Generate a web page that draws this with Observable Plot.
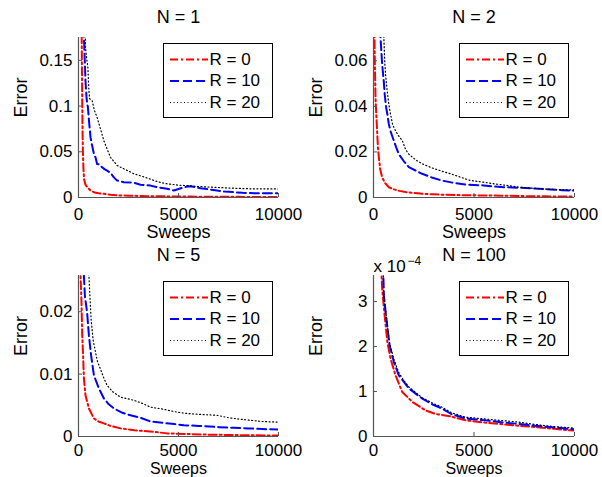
<!DOCTYPE html>
<html>
<head>
<meta charset="utf-8">
<script src="https://cdn.jsdelivr.net/npm/d3@7"></script>
<script src="https://cdn.jsdelivr.net/npm/@observablehq/plot@0.6"></script>
<style>
  body { margin: 0; background: white; }
  #chart { position: relative; width: 602px; height: 477px; overflow: hidden; background: white; }
  #chart svg { position: absolute; left: 0; top: 0; }
</style>
</head>
<body>
<div id="chart"></div>
<script>
// ---- data: [sweeps, error] ----
const xTicks = [0, 5000, 10000];
const seriesNames = ["R = 0", "R = 10", "R = 20"];

// N = 1
const N1_R0 = [[100,0.3],[150,0.2],[180,0.12],[200,0.075],[220,0.05],[250,0.03],[280,0.02],[350,0.014],[450,0.011],[600,0.0076],[800,0.0055],[1000,0.0046],[1270,0.004],[1600,0.003],[2100,0.0022],[2500,0.002],[3000,0.0017],[4000,0.0013],[5000,0.0011],[6000,0.0009],[7000,0.0008],[8000,0.0007],[9000,0.0006],[10000,0.0005]];
const N1_R10 = [[250,0.2],[280,0.17],[320,0.146],[350,0.127],[400,0.11],[430,0.103],[470,0.099],[520,0.085],[600,0.066],[650,0.06],[700,0.055],[770,0.0475],[850,0.044],[930,0.0367],[1050,0.036],[1180,0.033],[1300,0.031],[1430,0.0294],[1600,0.027],[1770,0.022],[1930,0.0185],[2270,0.0167],[2770,0.0162],[3100,0.014],[3600,0.013],[4000,0.011],[4430,0.0095],[4770,0.0076],[5180,0.0105],[5450,0.0122],[5680,0.012],[6100,0.0101],[6500,0.009],[6930,0.0076],[7300,0.0066],[7770,0.0058],[8200,0.0052],[8770,0.0047],[9300,0.0047],[10000,0.0046]];
const N1_R20 = [[330,0.2],[350,0.164],[420,0.15],[470,0.142],[520,0.117],[560,0.108],[680,0.106],[800,0.095],[930,0.0875],[1100,0.075],[1270,0.062],[1450,0.052],[1600,0.044],[1930,0.035],[2300,0.031],[2770,0.026],[3200,0.023],[3600,0.02],[4000,0.017],[4430,0.015],[5000,0.0135],[5430,0.013],[6000,0.012],[6930,0.011],[7700,0.0102],[8600,0.0095],[9200,0.0095],[10000,0.0093]];

// N = 2
const N2_R0 = [[30,0.09],[50,0.07],[70,0.058],[100,0.044],[140,0.036],[180,0.0293],[220,0.022],[265,0.0177],[330,0.0125],[430,0.0089],[560,0.0065],[760,0.0045],[1000,0.0036],[1300,0.0029],[1590,0.0024],[2000,0.002],[2500,0.0016],[2920,0.0014],[3500,0.0012],[4500,0.001],[5500,0.0009],[6400,0.0008],[7500,0.0006],[8500,0.0005],[10000,0.0004]];
const N2_R10 = [[300,0.08],[350,0.07],[430,0.0585],[510,0.0512],[560,0.045],[630,0.0395],[700,0.036],[760,0.0323],[850,0.029],[1010,0.025],[1130,0.022],[1260,0.019],[1500,0.016],[1760,0.0133],[2100,0.0118],[2420,0.0104],[2900,0.0088],[3420,0.0074],[4000,0.0064],[4580,0.0057],[5490,0.0053],[6000,0.0048],[6600,0.0045],[7200,0.0043],[7980,0.004],[8800,0.0035],[9400,0.0032],[10000,0.003]];
const N2_R20 = [[480,0.08],[515,0.07],[565,0.0585],[620,0.052],[680,0.0469],[760,0.041],[845,0.0367],[950,0.032],[1095,0.0293],[1250,0.027],[1430,0.025],[1600,0.021],[1760,0.019],[2100,0.0165],[2420,0.0148],[2900,0.013],[3420,0.0115],[3830,0.0104],[4300,0.009],[4800,0.0075],[5490,0.0067],[6000,0.006],[6650,0.0053],[7200,0.0046],[8000,0.004],[8800,0.0036],[9400,0.0034],[10000,0.0033]];

// N = 5
const N5_R0 = [[80,0.03],[100,0.026],[150,0.0215],[185,0.0162],[230,0.013],[270,0.0093],[350,0.0066],[520,0.0045],[770,0.0029],[1000,0.0024],[1270,0.0021],[1600,0.0017],[2100,0.0013],[2800,0.001],[3770,0.00075],[4430,0.0005],[5500,0.0004],[6500,0.0003],[7500,0.00025],[8500,0.0002],[10000,0.00016]];
const N5_R10 = [[240,0.03],[270,0.0258],[320,0.0225],[430,0.0199],[520,0.0162],[630,0.013],[770,0.0098],[1020,0.0077],[1270,0.0061],[1500,0.0052],[1770,0.0045],[2200,0.0038],[2600,0.0034],[3100,0.003],[3600,0.0024],[4200,0.0022],[4800,0.002],[5270,0.0018],[6000,0.0017],[7000,0.0015],[7770,0.0014],[8500,0.0013],[9200,0.0012],[10000,0.0011]];
const N5_R20 = [[480,0.03],[520,0.0258],[570,0.0225],[630,0.0188],[730,0.0155],[850,0.0135],[950,0.012],[1100,0.0108],[1250,0.0095],[1430,0.0082],[1700,0.0072],[2100,0.0063],[2400,0.0061],[2770,0.0058],[3200,0.0053],[3600,0.0047],[4200,0.0044],[4930,0.0039],[5400,0.0037],[5770,0.0036],[6300,0.0035],[6930,0.0034],[7500,0.003],[8000,0.0028],[8600,0.0026],[9200,0.0024],[10000,0.0023]];

// N = 100 (values in units of 1e-4)
const N100_R0 = [[380,3.8],[400,3.58],[430,3.29],[500,2.95],[570,2.62],[690,2.1],[850,1.73],[1095,1.36],[1430,0.99],[1930,0.77],[2590,0.58],[3100,0.5],[3800,0.45],[4580,0.36],[5540,0.31],[6500,0.27],[7220,0.24],[8000,0.21],[9000,0.17],[10000,0.13]];
const N100_R10 = [[470,3.8],[490,3.58],[515,3.14],[640,2.62],[800,2.03],[1010,1.66],[1260,1.36],[1760,1.07],[2430,0.84],[3000,0.7],[3420,0.62],[3870,0.5],[4580,0.4],[5540,0.36],[6500,0.31],[7220,0.28],[8000,0.24],[9000,0.2],[10000,0.16]];
const N100_R20 = [[470,3.8],[490,3.58],[515,3.16],[640,2.66],[800,2.08],[1010,1.72],[1260,1.42],[1500,1.25],[1760,1.1],[2430,0.86],[3000,0.73],[3420,0.65],[3870,0.53],[4580,0.43],[5540,0.39],[6500,0.35],[7220,0.32],[8000,0.27],[9000,0.22],[10000,0.19]];

const yTicks1 = [0, 0.05, 0.1, 0.15];
const yTicks2 = [0, 0.02, 0.04, 0.06];
const yTicks5 = [0, 0.01, 0.02];
const yTicks100 = [0, 1, 2, 3];

// ---- styles ----
const styles = [
  {stroke: "#ff0000", strokeWidth: 2, strokeDasharray: "8,3,2,3"},
  {stroke: "#0000ff", strokeWidth: 2, strokeDasharray: "9,4"},
  {stroke: "#000000", strokeWidth: 1.2, strokeDasharray: "1,2.5"}
];
const axisColor = "#555";
const W = 602, H = 477;

function panel({title, series, yMax, yTicks, left, right, top, bottom, exponent, labelDy, labelSize, xPad}) {
  const fw = right - left, fh = bottom - top;
  const marks = [];
  series.forEach((s, i) => {
    marks.push(Plot.line(s, {x: d => d[0], y: d => d[1], clip: true, ...styles[i]}));
  });
  // axis lines & inner ticks
  marks.push(Plot.ruleX([0], {stroke: axisColor, strokeWidth: 1.2}));
  marks.push(Plot.ruleY([0], {stroke: axisColor, strokeWidth: 1.2}));
  marks.push(Plot.tickX(xTicks, {x: d => d, insetTop: fh - 4, stroke: axisColor}));
  marks.push(Plot.tickY(yTicks, {y: d => d, insetRight: fw - 4, stroke: axisColor}));
  marks.push(Plot.axisX(xTicks, {tickSize: 0, tickPadding: xPad, tickFormat: d3.format("d"), label: null}));
  marks.push(Plot.axisY(yTicks, {tickSize: 0, tickPadding: 6, tickFormat: d => String(d), label: null}));
  // labels
  marks.push(Plot.text([title], {frameAnchor: "top", dy: -20, lineAnchor: "middle", fontSize: 18}));
  marks.push(Plot.text(["Sweeps"], {frameAnchor: "bottom", dy: labelDy, lineAnchor: "middle", fontSize: labelSize}));
  marks.push(Plot.text(["Error"], {frameAnchor: "left", dx: -57, rotate: -90, lineAnchor: "middle", fontSize: 18}));
  if (exponent) {
    marks.push(Plot.text(["x 10"], {frameAnchor: "top-left", dy: -9, textAnchor: "start", lineAnchor: "middle", fontSize: 17}));
    marks.push(Plot.text([exponent], {frameAnchor: "top-left", dx: 34, dy: -14, textAnchor: "start", lineAnchor: "middle", fontSize: 12}));
  }
  // legend
  marks.push(Plot.frame({fill: "white", stroke: "black", strokeWidth: 1, insetLeft: fw - 115, insetRight: 6, insetTop: 6, insetBottom: fh - 80}));
  const rows = [22, 43.5, 65];
  seriesNames.forEach((name, i) => {
    marks.push(Plot.ruleY([yMax], {dy: rows[i], insetLeft: fw - 108, insetRight: 70, ...styles[i]}));
    marks.push(Plot.text([name], {frameAnchor: "top-right", dx: -69, dy: rows[i], textAnchor: "start", lineAnchor: "middle", fontSize: 17}));
  });
  return Plot.plot({
    width: W, height: H,
    marginLeft: left, marginRight: W - right, marginTop: top, marginBottom: H - bottom,
    x: {domain: [0, 10000]},
    y: {domain: [0, yMax]},
    style: "font: 17px 'Liberation Sans', Arial, Helvetica, sans-serif; background: transparent; overflow: visible; color: black;",
    marks
  });
}

const chart = document.getElementById("chart");
chart.append(panel({title: "N = 1", series: [N1_R0, N1_R10, N1_R20], yMax: 0.175, yTicks: yTicks1, left: 78, right: 278, top: 37, bottom: 197, labelDy: 35, labelSize: 18, xPad: 10}));
chart.append(panel({title: "N = 2", series: [N2_R0, N2_R10, N2_R20], yMax: 0.0702, yTicks: yTicks2, left: 373, right: 574, top: 37, bottom: 197, labelDy: 35, labelSize: 18, xPad: 10}));
chart.append(panel({title: "N = 5", series: [N5_R0, N5_R10, N5_R20], yMax: 0.0258, yTicks: yTicks5, left: 78, right: 278, top: 275, bottom: 436, labelDy: 32.3, labelSize: 16, xPad: 7}));
chart.append(panel({title: "N = 100", series: [N100_R0, N100_R10, N100_R20], yMax: 3.58, yTicks: yTicks100, left: 373, right: 574, top: 275, bottom: 436, exponent: "−4", labelDy: 32.3, labelSize: 16, xPad: 7}));
</script>
</body>
</html>
